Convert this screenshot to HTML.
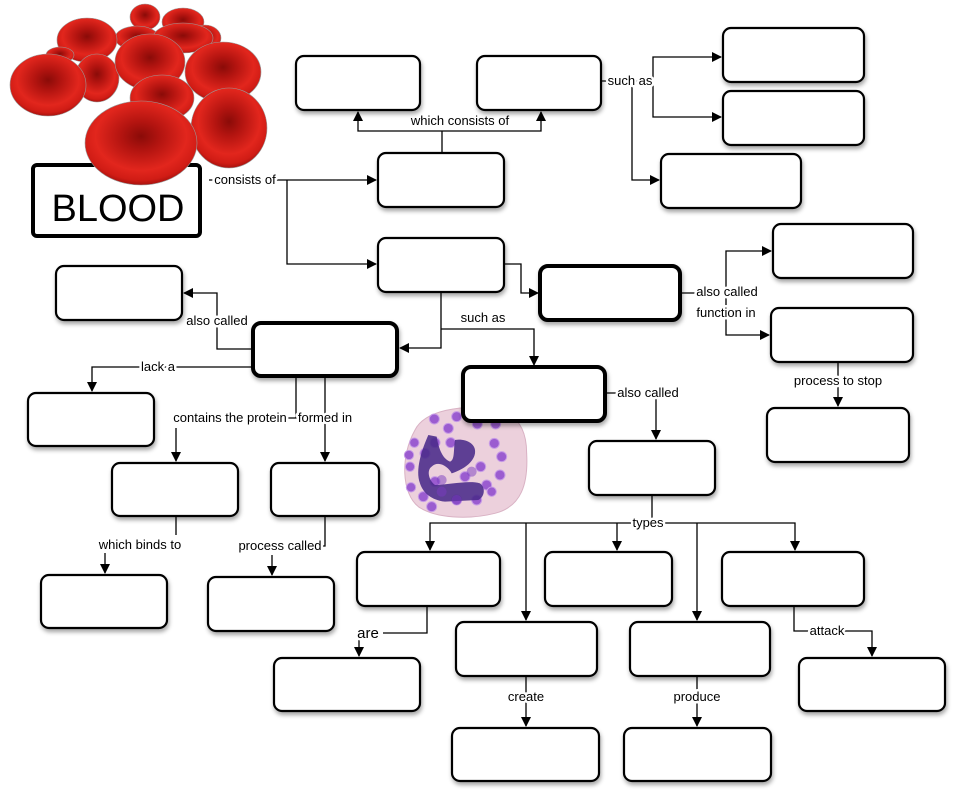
<!DOCTYPE html>
<html><head><meta charset="utf-8"><style>
html,body{margin:0;padding:0;background:#fff;}
svg{display:block;font-family:"Liberation Sans",sans-serif;}
</style></head><body>
<svg width="960" height="796" viewBox="0 0 960 796" xmlns="http://www.w3.org/2000/svg">
<defs>
<filter id="sh" x="-10%" y="-10%" width="130%" height="140%"><feDropShadow dx="1" dy="3" stdDeviation="2" flood-color="#000" flood-opacity="0.35"/></filter>
<radialGradient id="rbc" cx="50%" cy="42%" r="58%">
<stop offset="0" stop-color="#8a0b08"/><stop offset="0.3" stop-color="#b31410"/><stop offset="0.7" stop-color="#e2261d"/><stop offset="0.9" stop-color="#d01c15"/><stop offset="1" stop-color="#a8120e"/>
</radialGradient>
<marker id="ar" markerWidth="10" markerHeight="10" refX="9" refY="5" orient="auto" markerUnits="userSpaceOnUse"><path d="M0,0 L10,5 L0,10 Z" fill="#000"/></marker>
</defs>

<!-- BLOOD box -->
<rect x="33" y="165" width="167" height="71" rx="4" fill="#fff" stroke="#000" stroke-width="4"/>
<text x="118" y="221" font-size="38" text-anchor="middle" textLength="133" lengthAdjust="spacingAndGlyphs">BLOOD</text>

<!-- red blood cells -->
<g stroke="#9a9a9a" stroke-width="0.6">
<ellipse cx="145" cy="17" rx="15" ry="13" fill="url(#rbc)"/>
<ellipse cx="183" cy="22" rx="21" ry="14" fill="url(#rbc)"/>
<ellipse cx="205" cy="38" rx="16" ry="13" fill="url(#rbc)"/>
<ellipse cx="137" cy="38" rx="22" ry="12" fill="url(#rbc)"/>
<ellipse cx="183" cy="38" rx="30" ry="15" fill="url(#rbc)"/>
<ellipse cx="87" cy="40" rx="30" ry="22" fill="url(#rbc)"/>
<ellipse cx="60" cy="55" rx="14" ry="8" fill="url(#rbc)"/>
<ellipse cx="97" cy="78" rx="22" ry="24" fill="url(#rbc)"/>
<ellipse cx="48" cy="85" rx="38" ry="31" fill="url(#rbc)"/>
<ellipse cx="150" cy="62" rx="35" ry="28" fill="url(#rbc)"/>
<ellipse cx="223" cy="72" rx="38" ry="30" fill="url(#rbc)"/>
<ellipse cx="162" cy="98" rx="32" ry="23" fill="url(#rbc)"/>
<ellipse cx="229" cy="128" rx="38" ry="40" fill="url(#rbc)"/>
<ellipse cx="141" cy="143" rx="56" ry="42" fill="url(#rbc)"/>
</g>

<!-- neutrophil -->
<g transform="translate(395,400) scale(0.3333)">
<path d="M60,90 C90,30 200,15 290,25 C360,35 395,80 395,160 C400,250 380,320 300,340 C220,360 120,355 70,320 C20,280 15,170 60,90 Z" fill="#ecd0dc" stroke="#d9b2c4" stroke-width="3"/>
<g fill="#9b5cd0" stroke="#c79be6" stroke-width="3">
<circle cx="118" cy="57" r="15"/><circle cx="185" cy="50" r="15"/><circle cx="160" cy="85" r="15"/><circle cx="247" cy="72" r="15"/><circle cx="302" cy="72" r="15"/><circle cx="58" cy="128" r="14"/><circle cx="120" cy="128" r="15"/><circle cx="167" cy="128" r="15"/><circle cx="298" cy="130" r="15"/><circle cx="42" cy="165" r="14"/><circle cx="320" cy="170" r="15"/><circle cx="45" cy="200" r="14"/><circle cx="90" cy="160" r="15"/><circle cx="257" cy="200" r="15"/><circle cx="210" cy="230" r="15"/><circle cx="315" cy="225" r="15"/><circle cx="48" cy="262" r="14"/><circle cx="120" cy="245" r="15"/><circle cx="275" cy="255" r="15"/><circle cx="290" cy="275" r="14"/><circle cx="85" cy="290" r="15"/><circle cx="185" cy="300" r="15"/><circle cx="245" cy="300" r="15"/><circle cx="110" cy="320" r="15"/>
</g>
<path d="M100,105 C80,150 60,210 75,250 C85,280 110,300 150,305 L250,300 C270,290 272,262 255,250 C220,240 160,255 120,255 C100,240 95,210 110,200 C130,180 160,200 170,220 C200,210 235,190 240,160 C245,130 210,115 180,120 C175,150 180,180 165,185 C140,175 130,140 125,110 Z" fill="#4a2a8a" fill-opacity="0.88"/>
<g fill="#7a3cc0" fill-opacity="0.5"><circle cx="140" cy="240" r="15"/><circle cx="140" cy="275" r="15"/><circle cx="230" cy="215" r="15"/><circle cx="185" cy="300" r="15"/></g>
</g>

<!-- connectors -->
<g stroke="#000" stroke-width="1.3" fill="none">
<path d="M209,180 H376" marker-end="url(#ar)"/>
<path d="M287,180 V264 H376" marker-end="url(#ar)"/>
<path d="M442,153 V131"/>
<path d="M442,131 H358 V112" marker-end="url(#ar)"/>
<path d="M442,131 H541 V112" marker-end="url(#ar)"/>
<path d="M601,81 H653"/>
<path d="M653,81 V57 H721" marker-end="url(#ar)"/>
<path d="M653,81 V117 H721" marker-end="url(#ar)"/>
<path d="M632,81 V180 H659" marker-end="url(#ar)"/>
<path d="M504,264 H521 V293 H538" marker-end="url(#ar)"/>
<path d="M441,292 V348 H400" marker-end="url(#ar)"/>
<path d="M441,329 H534 V365" marker-end="url(#ar)"/>
<path d="M680,293 H726"/>
<path d="M726,293 V251 H771" marker-end="url(#ar)"/>
<path d="M726,293 V335 H769" marker-end="url(#ar)"/>
<path d="M838,362 V406" marker-end="url(#ar)"/>
<path d="M253,349 H217 V293 H184" marker-end="url(#ar)"/>
<path d="M253,367 H92 V391" marker-end="url(#ar)"/>
<path d="M296,376 V418 H285"/>
<path d="M176,428 V461" marker-end="url(#ar)"/>
<path d="M325,376 V461" marker-end="url(#ar)"/>
<path d="M176,516 V535"/><path d="M105,553 V573" marker-end="url(#ar)"/>
<path d="M325,516 V546 H318"/><path d="M272,555 V575" marker-end="url(#ar)"/>
<path d="M605,393 H656 V439" marker-end="url(#ar)"/>
<path d="M652,495 V523"/>
<path d="M652,523 H430 V550" marker-end="url(#ar)"/>
<path d="M652,523 H795 V550" marker-end="url(#ar)"/>
<path d="M526,523 V620" marker-end="url(#ar)"/>
<path d="M617,523 V550" marker-end="url(#ar)"/>
<path d="M697,523 V620" marker-end="url(#ar)"/>
<path d="M427,606 V633 H383"/><path d="M359,640 V656" marker-end="url(#ar)"/>
<path d="M526,676 V726" marker-end="url(#ar)"/>
<path d="M697,676 V726" marker-end="url(#ar)"/>
<path d="M794,606 V631 H872 V656" marker-end="url(#ar)"/>
</g>

<!-- labels -->
<g font-size="13" fill="#000" stroke="#fff" stroke-width="5" paint-order="stroke" stroke-linejoin="round">
<text x="245" y="184" text-anchor="middle">consists of</text>
<text x="460" y="125" text-anchor="middle">which consists of</text>
<text x="630" y="85" text-anchor="middle">such as</text>
<text x="483" y="322" text-anchor="middle">such as</text>
<text x="727" y="296" text-anchor="middle">also called</text>
<text x="726" y="317" text-anchor="middle">function in</text>
<text x="838" y="385" text-anchor="middle">process to stop</text>
<text x="217" y="325" text-anchor="middle">also called</text>
<text x="158" y="371" text-anchor="middle">lack a</text>
<text x="230" y="422" text-anchor="middle">contains the protein</text>
<text x="325" y="422" text-anchor="middle">formed in</text>
<text x="140" y="549" text-anchor="middle">which binds to</text>
<text x="280" y="550" text-anchor="middle">process called</text>
<text x="648" y="397" text-anchor="middle">also called</text>
<text x="648" y="527" text-anchor="middle">types</text>
<text x="368" y="638" text-anchor="middle" font-size="15">are</text>
<text x="526" y="701" text-anchor="middle">create</text>
<text x="697" y="701" text-anchor="middle">produce</text>
<text x="827" y="635" text-anchor="middle">attack</text>
</g>

<!-- boxes -->
<g fill="#fff" stroke="#000" stroke-width="2.2" filter="url(#sh)">
<rect x="296" y="56" width="124" height="54" rx="8"/>
<rect x="477" y="56" width="124" height="54" rx="8"/>
<rect x="723" y="28" width="141" height="54" rx="8"/>
<rect x="723" y="91" width="141" height="54" rx="8"/>
<rect x="661" y="154" width="140" height="54" rx="8"/>
<rect x="378" y="153" width="126" height="54" rx="8"/>
<rect x="378" y="238" width="126" height="54" rx="8"/>
<rect x="773" y="224" width="140" height="54" rx="8"/>
<rect x="771" y="308" width="142" height="54" rx="8"/>
<rect x="767" y="408" width="142" height="54" rx="8"/>
<rect x="56" y="266" width="126" height="54" rx="8"/>
<rect x="28" y="393" width="126" height="53" rx="8"/>
<rect x="112" y="463" width="126" height="53" rx="8"/>
<rect x="271" y="463" width="108" height="53" rx="8"/>
<rect x="589" y="441" width="126" height="54" rx="8"/>
<rect x="41" y="575" width="126" height="53" rx="8"/>
<rect x="208" y="577" width="126" height="54" rx="8"/>
<rect x="357" y="552" width="143" height="54" rx="8"/>
<rect x="545" y="552" width="127" height="54" rx="8"/>
<rect x="722" y="552" width="142" height="54" rx="8"/>
<rect x="456" y="622" width="141" height="54" rx="8"/>
<rect x="630" y="622" width="140" height="54" rx="8"/>
<rect x="274" y="658" width="146" height="53" rx="8"/>
<rect x="799" y="658" width="146" height="53" rx="8"/>
<rect x="452" y="728" width="147" height="53" rx="8"/>
<rect x="624" y="728" width="147" height="53" rx="8"/>
</g>
<g fill="#fff" stroke="#000" stroke-width="4" filter="url(#sh)">
<rect x="540" y="266" width="140" height="54" rx="8"/>
<rect x="253" y="323" width="144" height="53" rx="8"/>
<rect x="463" y="367" width="142" height="54" rx="8"/>
</g>
</svg>
</body></html>
